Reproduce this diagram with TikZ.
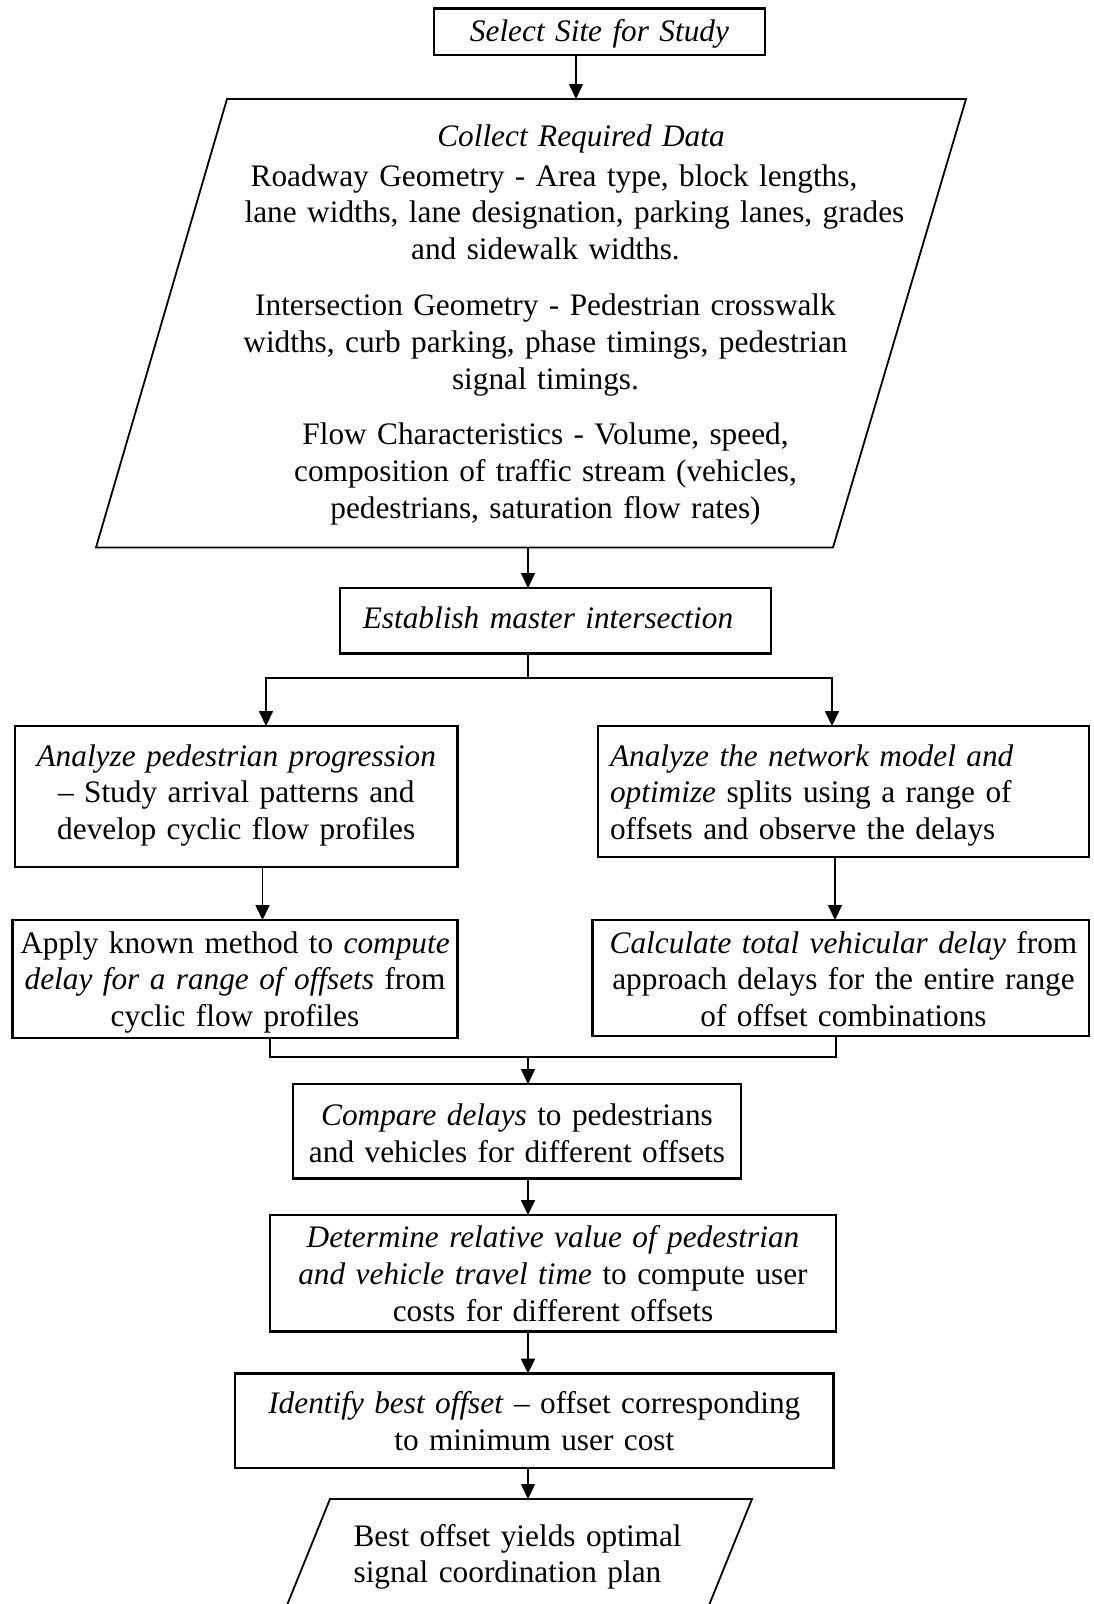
\documentclass[tikz,border=0pt]{standalone}
\usepackage{fontspec}
\setmainfont{Liberation Serif}
\usetikzlibrary{arrows.meta}
\newcommand{\boxfont}{\fontsize{31.3}{36.8}\selectfont}
\begin{document}
\begin{tikzpicture}[x=1pt,y=-1pt,
  every node/.style={font=\boxfont, inner sep=0pt, outer sep=0pt},
  box/.style={draw, line width=2.6pt, anchor=north west, align=center},
  conn/.style={line width=1.8pt},
  arr/.style={conn, -{Triangle[length=15pt,width=14pt]}},
  slanted/.style={line width=1.8pt, line join=miter}
]
\path[use as bounding box, fill=white] (0,0) rectangle (1093,1604);
\clip (0,0) rectangle (1093,1604);

% ---------- process boxes (top-left corner; text height = distance from top to first baseline)
\node[box, text width=331pt, text height=32.5pt, text depth=14pt] (sel) at (434,8.5)
  {\textit{Select Site for Study}};

\node[box, text width=431pt, text height=40pt, text depth=25.6pt] (est) at (340,588)
  {\hspace*{-15pt}\textit{Establish master intersection}};

\node[box, text width=442.5pt, text height=40pt, text depth=101pt] (lb1) at (15,726)
  {\textit{Analyze pedestrian progression}\\
   – Study arrival patterns and\\
   develop cyclic flow profiles};

\node[box, align=left, text width=467pt, inner xsep=12pt, text height=40pt, text depth=91pt] (rb1) at (598,726)
  {\textit{Analyze the network model and}\\
   \textit{optimize} splits using a range of\\
   offsets and observe the delays};

\node[box, text width=445pt, text height=33pt, text depth=85pt] (lb2) at (12.5,920)
  {Apply known method to \textit{compute}\\
   \textit{delay for a range of offsets} from\\
   cyclic flow profiles};

\node[box, text width=496.5pt, text height=33pt, text depth=83pt] (rb2) at (592.5,920)
  {\hspace*{5.5pt}\textit{Calculate total vehicular delay} from\\
   \hspace*{5.5pt}approach delays for the entire range\\
   \hspace*{5.5pt}of offset combinations};

\node[box, text width=448pt, text height=41.4pt, text depth=53.2pt] (cmp) at (293,1084)
  {\textit{Compare delays} to pedestrians\\
   and vehicles for different offsets};

\node[box, text width=566pt, text height=32.6pt, text depth=83.9pt] (det) at (270,1215)
  {\textit{Determine relative value of pedestrian}\\
   \textit{and vehicle travel time} to compute user\\
   costs for different offsets};

\node[box, text width=598.6pt, text height=40pt, text depth=54.4pt] (idf) at (235,1373.6)
  {\textit{Identify best offset} – offset corresponding\\
   to minimum user cost};

% ---------- data input parallelogram
\coordinate (colTL) at (227,99);
\coordinate (colTR) at (966,99);
\coordinate (colBR) at (833,547.5);
\coordinate (colBL) at (96,547.5);
\draw[slanted] (colTL) -- (colTR) -- (colBR) -- (colBL) -- cycle;
\node[text width=760pt, align=center, anchor=base] (col) at (545.5,146)
  {\hspace*{71pt}\textit{Collect Required Data}\\[3.2pt]
   \hspace*{17pt}Roadway Geometry - Area type, block lengths,\\
   \hspace*{58pt}lane widths, lane designation, parking lanes, grades\\
   and sidewalk widths.\\[19pt]
   Intersection Geometry - Pedestrian crosswalk\\
   widths, curb parking, phase timings, pedestrian\\
   signal timings.\\[19pt]
   Flow Characteristics - Volume, speed,\\
   composition of traffic stream (vehicles,\\
   pedestrians, saturation flow rates)};

% ---------- output parallelogram
\coordinate (finTL) at (330,1499);
\coordinate (finTR) at (752,1499);
\coordinate (finBR) at (703,1620);
\coordinate (finBL) at (281,1620);
\draw[slanted] (finBL) -- (finTL) -- (finTR) -- (finBR);
\node[text width=400pt, align=left, anchor=base west] (fin) at (353.6,1546)
  {Best offset yields optimal\\
   signal coordination plan};

% ---------- connector positions
\coordinate (xA) at (576,0);
\coordinate (xM) at (528,0);
\coordinate (xL) at (266,0);
\coordinate (xR) at (832,0);
\coordinate (split) at (528,678);
\coordinate (xL2) at (262.5,0);
\coordinate (xR2) at (835,0);
\coordinate (xJL) at (270,0);
\coordinate (xJR) at (836,0);
\coordinate (join) at (528,1057);

% ---------- connectors
\draw[arr] (xA |- sel.south) -- (xA |- colTL);
\draw[arr] (xM |- colBL) -- (xM |- est.north);
\draw[conn] (xM |- est.south) -- (split);
\draw[arr] (split) -| (xL |- lb1.north);
\draw[arr] (split) -| (xR |- rb1.north);
\draw[arr] (xL2 |- lb1.south) -- (xL2 |- lb2.north);
\draw[arr] (xR2 |- rb1.south) -- (xR2 |- rb2.north);
\draw[conn] (xJL |- lb2.south) |- (join);
\draw[conn] (xJR |- rb2.south) |- (join);
\draw[arr] (join) -- (xM |- cmp.north);
\draw[arr] (xM |- cmp.south) -- (xM |- det.north);
\draw[arr] (xM |- det.south) -- (xM |- idf.north);
\draw[arr] (xM |- idf.south) -- (xM |- finTL);
\end{tikzpicture}
\end{document}
